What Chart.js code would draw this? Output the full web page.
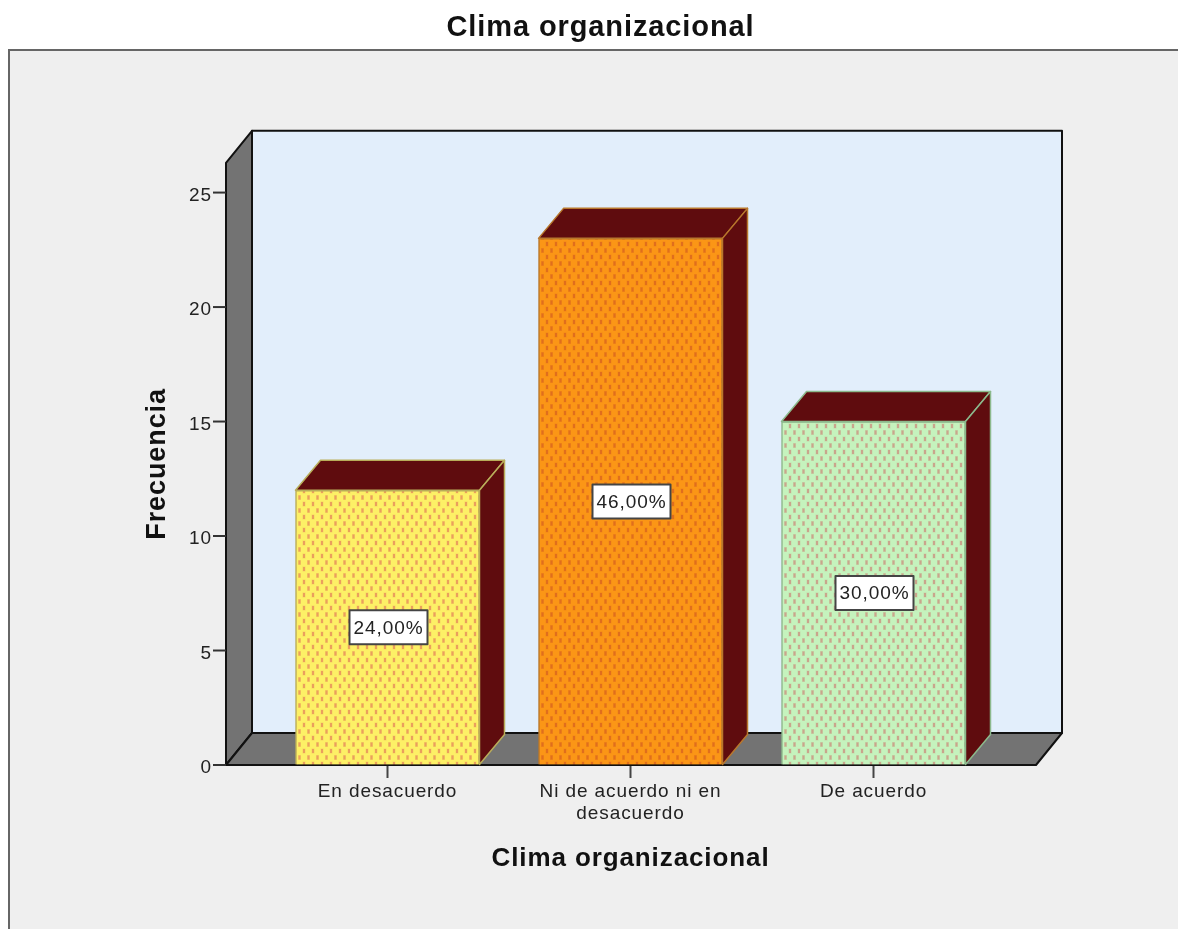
<!DOCTYPE html>
<html>
<head>
<meta charset="utf-8">
<title>Clima organizacional</title>
<script src="https://cdn.jsdelivr.net/npm/chart.js@4"></script>
<style>
    body { margin: 0; background: #ffffff; overflow: hidden; }
    canvas { display: block; }
</style>
</head>
<body>
<canvas id="climaChart" width="1178" height="929"></canvas>
<script>
const chartTitle = 'Clima organizacional';
const xTitle = 'Clima organizacional';
const yTitle = 'Frecuencia';
const categories = ['En desacuerdo', ['Ni de acuerdo ni en', 'desacuerdo'], 'De acuerdo'];
const frequencies = [12, 23, 15];
const percentLabels = ['24,00%', '46,00%', '30,00%'];

// colores de cada barra
const baseColors = ['#fdf066', '#fb9616', '#c5f3bd'];
const dotColors = ['#e8955c', '#dd6a1e', '#c99c86'];
const edgeColors = ['#b9ad5a', '#b8772c', '#8cb98c'];
const faceColor = '#5f0c0e';

const fontName = '"Liberation Sans", Arial, sans-serif';
const textColor = '#222222';

// profundidad del efecto 3D
const wallDx = 26;
const wallDy = 32;
const barDx = 25;
const barDy = 30;
const floorMargin = 40;

function makePattern(base, dot) {
    const cell = document.createElement('canvas');
    cell.width = 9;
    cell.height = 13;
    const c = cell.getContext('2d');
    c.fillStyle = base;
    c.fillRect(0, 0, 9, 13);
    c.fillStyle = dot;
    // punto con borde suave, filas alternas desplazadas
    [[1, 1], [5.5, 7.5]].forEach(p => {
        c.globalAlpha = 0.3;
        c.fillRect(p[0], p[1], 3, 5);
        c.globalAlpha = 0.85;
        c.fillRect(p[0] + 0.5, p[1] + 0.5, 2, 4);
    });
    return c.createPattern(cell, 'repeat');
}

function fillPoly(ctx, points, fill, stroke, width) {
    ctx.beginPath();
    points.forEach((p, i) => i ? ctx.lineTo(p[0], p[1]) : ctx.moveTo(p[0], p[1]));
    ctx.closePath();
    ctx.fillStyle = fill;
    ctx.fill();
    ctx.strokeStyle = stroke;
    ctx.lineWidth = width;
    ctx.stroke();
}

const depthPlugin = {
    id: 'depthPlugin',
    afterLayout(chart) {
        // el titulo no esta centrado en el lienzo
        chart.titleBlock.left = 0;
        chart.titleBlock.right = 1201;
    },
    beforeDraw(chart) {
        const ctx = chart.ctx;
        // el texto original va algo mas espaciado
        ctx.letterSpacing = '0.9px';
        ctx.save();
        ctx.fillStyle = '#efefef';
        ctx.fillRect(9, 50, chart.width, chart.height);
        ctx.strokeStyle = '#666666';
        ctx.lineWidth = 2;
        ctx.beginPath();
        ctx.moveTo(9, chart.height);
        ctx.lineTo(9, 50);
        ctx.lineTo(chart.width, 50);
        ctx.stroke();
        ctx.restore();
    },
    beforeDatasetsDraw(chart) {
        const ctx = chart.ctx;
        const area = chart.chartArea;
        const left = area.left - floorMargin;
        const right = area.right + floorMargin + 1;
        const top = area.top;
        const bottom = area.bottom;
        ctx.save();
        ctx.lineJoin = 'round';
        // pared del fondo, pared izquierda y suelo
        fillPoly(ctx, [[left + wallDx, top - wallDy], [right + wallDx, top - wallDy], [right + wallDx, bottom - wallDy], [left + wallDx, bottom - wallDy]], '#e2eefb', '#111111', 2);
        fillPoly(ctx, [[left, top], [left + wallDx, top - wallDy], [left + wallDx, bottom - wallDy], [left, bottom]], '#737373', '#111111', 2);
        fillPoly(ctx, [[left, bottom], [left + wallDx, bottom - wallDy], [right + wallDx, bottom - wallDy], [right, bottom]], '#737373', '#111111', 2);
        // marcas del eje y
        ctx.strokeStyle = '#333333';
        ctx.lineWidth = 2;
        chart.scales.y.ticks.forEach(tick => {
            const y = chart.scales.y.getPixelForValue(tick.value);
            ctx.beginPath();
            ctx.moveTo(left - 13, y);
            ctx.lineTo(left, y);
            ctx.stroke();
        });
        ctx.restore();
    },
    afterDatasetsDraw(chart) {
        const ctx = chart.ctx;
        const bars = chart.getDatasetMeta(0).data;
        ctx.save();
        ctx.lineJoin = 'round';
        bars.forEach((bar, i) => {
            const x0 = bar.x - bar.width / 2;
            const x1 = bar.x + bar.width / 2;
            // cara superior y lateral
            fillPoly(ctx, [[x0, bar.y], [x0 + barDx, bar.y - barDy], [x1 + barDx, bar.y - barDy], [x1, bar.y]], faceColor, edgeColors[i], 1.5);
            fillPoly(ctx, [[x1, bar.y], [x1 + barDx, bar.y - barDy], [x1 + barDx, bar.base - barDy], [x1, bar.base]], faceColor, edgeColors[i], 1.5);
        });
        // etiquetas de porcentaje
        ctx.font = '19px ' + fontName;
        ctx.textAlign = 'center';
        ctx.textBaseline = 'middle';
        bars.forEach((bar, i) => {
            const midY = (bar.y + bar.base) / 2;
            const cx = bar.x + 1;
            ctx.fillStyle = '#ffffff';
            ctx.strokeStyle = '#444444';
            ctx.lineWidth = 2;
            ctx.fillRect(cx - 39, midY - 17, 78, 34);
            ctx.strokeRect(cx - 39, midY - 17, 78, 34);
            ctx.fillStyle = textColor;
            ctx.fillText(percentLabels[i], cx, midY + 1);
        });
        ctx.restore();
    }
};

const ctx = document.getElementById('climaChart').getContext('2d');

new Chart(ctx, {
    type: 'bar',
    plugins: [depthPlugin],
    data: {
        labels: categories,
        datasets: [{
            label: yTitle,
            data: frequencies,
            backgroundColor: baseColors.map((c, i) => makePattern(c, dotColors[i])),
            borderColor: edgeColors,
            borderWidth: 1.5,
            barThickness: 184
        }]
    },
    options: {
        responsive: false,
        animation: false,
        layout: { padding: { left: 0, right: 183, top: 0, bottom: 0 } },
        plugins: {
            legend: { display: false },
            tooltip: { enabled: false },
            title: {
                display: true,
                text: chartTitle,
                color: '#111111',
                font: { family: fontName, size: 29, weight: 'bold', lineHeight: 1.2 },
                padding: { top: 11, bottom: 117 }
            }
        },
        scales: {
            x: {
                grid: { drawOnChartArea: false, offset: false, tickLength: 13, tickColor: '#444444', tickWidth: 2 },
                border: { display: false },
                ticks: {
                    color: textColor,
                    padding: 2,
                    maxRotation: 0,
                    autoSkip: false,
                    font: { family: fontName, size: 19, lineHeight: 1.2 }
                },
                title: {
                    display: true,
                    text: xTitle,
                    color: '#111111',
                    font: { family: fontName, size: 26, weight: 'bold', lineHeight: 1.2 },
                    padding: { top: 0, bottom: 55 }
                },
                afterFit(scale) { scale.height = 164; }
            },
            y: {
                min: 0,
                max: 26.3,
                grid: { display: true, drawOnChartArea: false, drawTicks: false },
                border: { display: false },
                ticks: {
                    stepSize: 5,
                    includeBounds: false,
                    color: textColor,
                    padding: 54,
                    labelOffset: 3,
                    font: { family: fontName, size: 19 }
                },
                title: {
                    display: true,
                    text: yTitle,
                    color: '#111111',
                    font: { family: fontName, size: 27, weight: 'bold', lineHeight: 1.2 },
                    padding: { top: 141, bottom: 0 }
                },
                afterFit(scale) { scale.width = 266; }
            }
        }
    }
});
</script>
</body>
</html>
